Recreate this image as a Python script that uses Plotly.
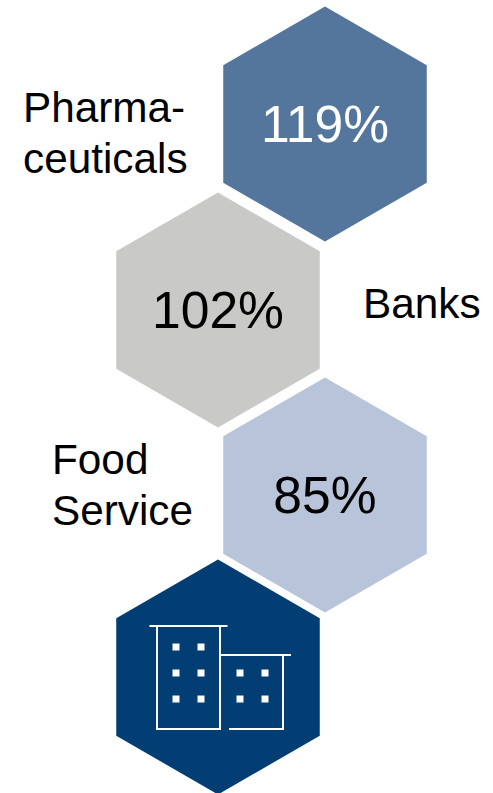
import math
import plotly.graph_objects as go

# Sector figures
sectors = ["Pharma-\nceuticals", "Banks", "Food\nService"]
values = [119, 102, 85]

# Honeycomb layout, in page pixels
W, H = 493, 793
centres = [(325, 124), (218, 310), (325, 495), (218, 677)]
RADIUS = 117.5
fills = ["#55769C", "#C9C9C8", "#B8C4D9", "#023E73"]
value_colours = ["#FFFFFF", "#000000", "#000000"]
label_anchor = [(23, 111), (363, 307), (52, 463)]
LINE_STEP = 51.5
LABEL_SIZE = 42.3
VALUE_SIZE = 51.6
FONT = "Liberation Sans, Arial, sans-serif"


def hexagon(cx, cy, r):
    pts = [(cx + r * math.sin(math.radians(60 * i)),
            cy - r * math.cos(math.radians(60 * i))) for i in range(6)]
    pts.append(pts[0])
    return [p[0] for p in pts], [p[1] for p in pts]


fig = go.Figure()

for (cx, cy), colour in zip(centres, fills):
    xs, ys = hexagon(cx, cy, RADIUS)
    fig.add_trace(go.Scatter(x=xs, y=ys, mode="lines", fill="toself",
                             fillcolor=colour, line=dict(width=0),
                             hoverinfo="skip"))

# Percentages inside the hexagons
for (cx, cy), value, colour in zip(centres, values, value_colours):
    fig.add_trace(go.Scatter(x=[cx], y=[cy + 5], mode="text",
                             text=[f"{value}%"], textposition="middle center",
                             textfont=dict(family=FONT, size=VALUE_SIZE, color=colour),
                             hoverinfo="skip"))

# Sector names, one text mark per line for tight leading
for name, (x, y) in zip(sectors, label_anchor):
    for i, line in enumerate(name.split("\n")):
        fig.add_trace(go.Scatter(x=[x], y=[y + i * LINE_STEP], mode="text",
                                 text=[line], textposition="middle right",
                                 textfont=dict(family=FONT, size=LABEL_SIZE, color="#000000"),
                                 hoverinfo="skip"))

# Building icon in the bottom hexagon
outline = dict(color="#FFFFFF", width=2)
icon_paths = [
    ([149.5, 227.5], [626, 626]),                       # tall roof
    ([157, 157, 220, 220], [626, 729, 729, 626]),       # tall walls
    ([220, 291], [655, 655]),                           # low roof
    ([283, 283, 229], [655, 729, 729]),                 # low walls
]
for xs, ys in icon_paths:
    fig.add_trace(go.Scatter(x=xs, y=ys, mode="lines", line=outline, hoverinfo="skip"))

window_x = [176, 201, 176, 201, 176, 201, 240, 265, 240, 265]
window_y = [647, 647, 673, 673, 699, 699, 673, 673, 699, 699]
fig.add_trace(go.Scatter(x=window_x, y=window_y, mode="markers",
                         marker=dict(symbol="square", size=7, color="#FFFFFF",
                                     line=dict(width=0)),
                         hoverinfo="skip"))

fig.update_layout(
    width=W, height=H, margin=dict(l=0, r=0, t=0, b=0),
    paper_bgcolor="#FFFFFF", plot_bgcolor="#FFFFFF", showlegend=False,
    xaxis=dict(range=[0, W], visible=False, fixedrange=True),
    yaxis=dict(range=[H, 0], visible=False, fixedrange=True),
)

fig.write_html("out.html", config=dict(displayModeBar=False))
